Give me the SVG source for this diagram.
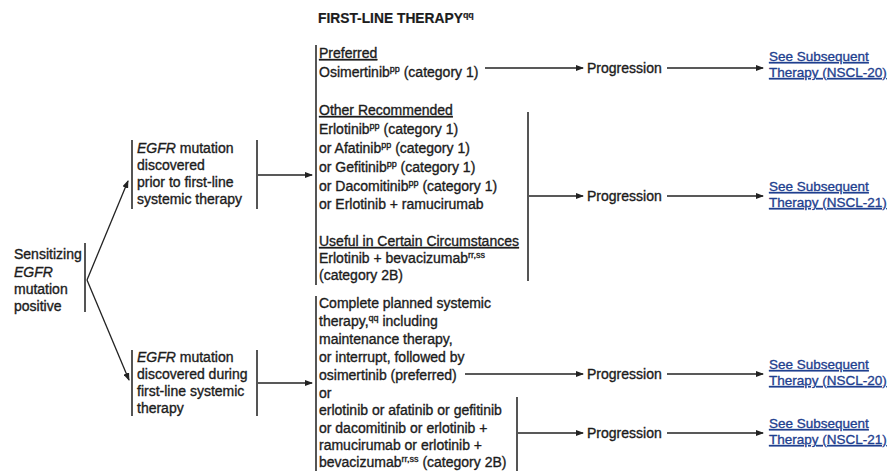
<svg xmlns="http://www.w3.org/2000/svg" width="892" height="472" viewBox="0 0 892 472">
<defs>
<marker id="ah" markerWidth="8" markerHeight="6" refX="7" refY="3" orient="auto" markerUnits="userSpaceOnUse">
<path d="M0,0 L8,3 L0,6 Z" fill="#222"/>
</marker>
<style>
text{font-family:"Liberation Sans",Arial,sans-serif;font-size:14px;fill:#1c1c1c;stroke:#1c1c1c;stroke-width:0.35}
.t{font-weight:bold;font-size:13.8px;stroke-width:0.2}
.u{text-decoration:underline}
.i{font-style:italic}
.sup{font-size:9px}
.lnk{fill:#1f3f8f;stroke:#1f3f8f;text-decoration:underline;font-size:13.5px}
.bar{stroke:#555;stroke-width:2;fill:none}
.con{stroke:#222;stroke-width:1.3;fill:none;marker-end:url(#ah)}
</style>
</defs>
<rect width="892" height="472" fill="#fff"/>

<g id="title">
<text class="t" x="318" y="23">FIRST-LINE THERAPY<tspan class="sup" dy="-5">qq</tspan></text>
</g>

<g id="sensitizing">
<text x="14" y="259">Sensitizing</text>
<text x="14" y="277" class="i">EGFR</text>
<text x="14" y="294">mutation</text>
<text x="14" y="311">positive</text>
<line class="bar" x1="85" y1="243" x2="85" y2="312"/>
</g>

<g id="egfr-prior">
<line class="bar" x1="132" y1="140" x2="132" y2="209"/>
<text x="137" y="153"><tspan class="i">EGFR</tspan> mutation</text>
<text x="137" y="170">discovered</text>
<text x="137" y="187">prior to first-line</text>
<text x="137" y="204">systemic therapy</text>
<line class="bar" x1="257" y1="140" x2="257" y2="209"/>
</g>

<g id="egfr-during">
<line class="bar" x1="132" y1="350" x2="132" y2="416"/>
<text x="137" y="362"><tspan class="i">EGFR</tspan> mutation</text>
<text x="137" y="379">discovered during</text>
<text x="137" y="396">first-line systemic</text>
<text x="137" y="413">therapy</text>
<line class="bar" x1="257" y1="350" x2="257" y2="416"/>
</g>

<g id="firstline-prior">
<line class="bar" x1="316" y1="45" x2="316" y2="285"/>
<text x="319" y="58" class="u">Preferred</text>
<text x="319" y="77">Osimertinib<tspan class="sup" dy="-5">pp</tspan><tspan dy="5"> (category 1)</tspan></text>
<text x="319" y="115" class="u">Other Recommended</text>
<text x="319" y="134">Erlotinib<tspan class="sup" dy="-5">pp</tspan><tspan dy="5"> (category 1)</tspan></text>
<text x="319" y="153">or Afatinib<tspan class="sup" dy="-5">pp</tspan><tspan dy="5"> (category 1)</tspan></text>
<text x="319" y="172">or Gefitinib<tspan class="sup" dy="-5">pp</tspan><tspan dy="5"> (category 1)</tspan></text>
<text x="319" y="191">or Dacomitinib<tspan class="sup" dy="-5">pp</tspan><tspan dy="5"> (category 1)</tspan></text>
<text x="319" y="209">or Erlotinib + ramucirumab</text>
<text x="319" y="246" class="u">Useful in Certain Circumstances</text>
<text x="319" y="263">Erlotinib + bevacizumab<tspan class="sup" dy="-5">rr,ss</tspan></text>
<text x="319" y="280">(category 2B)</text>
<line class="bar" x1="528" y1="112" x2="528" y2="281"/>
</g>

<g id="firstline-during">
<line class="bar" x1="316" y1="296" x2="316" y2="471"/>
<text x="319" y="308">Complete planned systemic</text>
<text x="319" y="326">therapy,<tspan class="sup" dy="-5">qq</tspan><tspan dy="5"> including</tspan></text>
<text x="319" y="344">maintenance therapy,</text>
<text x="319" y="362">or interrupt, followed by</text>
<text x="319" y="380">osimertinib (preferred)</text>
<text x="319" y="398">or</text>
<text x="319" y="415">erlotinib or afatinib or gefitinib</text>
<text x="319" y="433">or dacomitinib or erlotinib +</text>
<text x="319" y="450">ramucirumab or erlotinib +</text>
<text x="319" y="467">bevacizumab<tspan class="sup" dy="-5">rr,ss</tspan><tspan dy="5"> (category 2B)</tspan></text>
<line class="bar" x1="517" y1="397" x2="517" y2="471"/>
</g>

<g id="progression-1"><text x="587" y="73">Progression</text></g>
<g id="progression-2"><text x="587" y="201">Progression</text></g>
<g id="progression-3"><text x="587" y="379">Progression</text></g>
<g id="progression-4"><text x="587" y="438">Progression</text></g>

<g id="link-1"><text class="lnk" x="769" y="61">See Subsequent</text><text class="lnk" x="769" y="77">Therapy (NSCL-20)</text></g>
<g id="link-2"><text class="lnk" x="769" y="191">See Subsequent</text><text class="lnk" x="769" y="207">Therapy (NSCL-21)</text></g>
<g id="link-3"><text class="lnk" x="769" y="369">See Subsequent</text><text class="lnk" x="769" y="385">Therapy (NSCL-20)</text></g>
<g id="link-4"><text class="lnk" x="769" y="428">See Subsequent</text><text class="lnk" x="769" y="444">Therapy (NSCL-21)</text></g>

<g id="connectors">
<line class="con" x1="87" y1="280" x2="128" y2="181"/>
<line class="con" x1="87" y1="280" x2="129" y2="380"/>
<line class="con" x1="258" y1="175" x2="312" y2="175"/>
<line class="con" x1="258" y1="383" x2="312" y2="383"/>
<line class="con" x1="485" y1="68" x2="583" y2="68"/>
<line class="con" x1="529" y1="196" x2="583" y2="196"/>
<line class="con" x1="465" y1="374" x2="583" y2="374"/>
<line class="con" x1="518" y1="433" x2="583" y2="433"/>
<line class="con" x1="667" y1="68" x2="763" y2="68"/>
<line class="con" x1="667" y1="196" x2="763" y2="196"/>
<line class="con" x1="667" y1="374" x2="763" y2="374"/>
<line class="con" x1="667" y1="433" x2="763" y2="433"/>
</g>
</svg>
